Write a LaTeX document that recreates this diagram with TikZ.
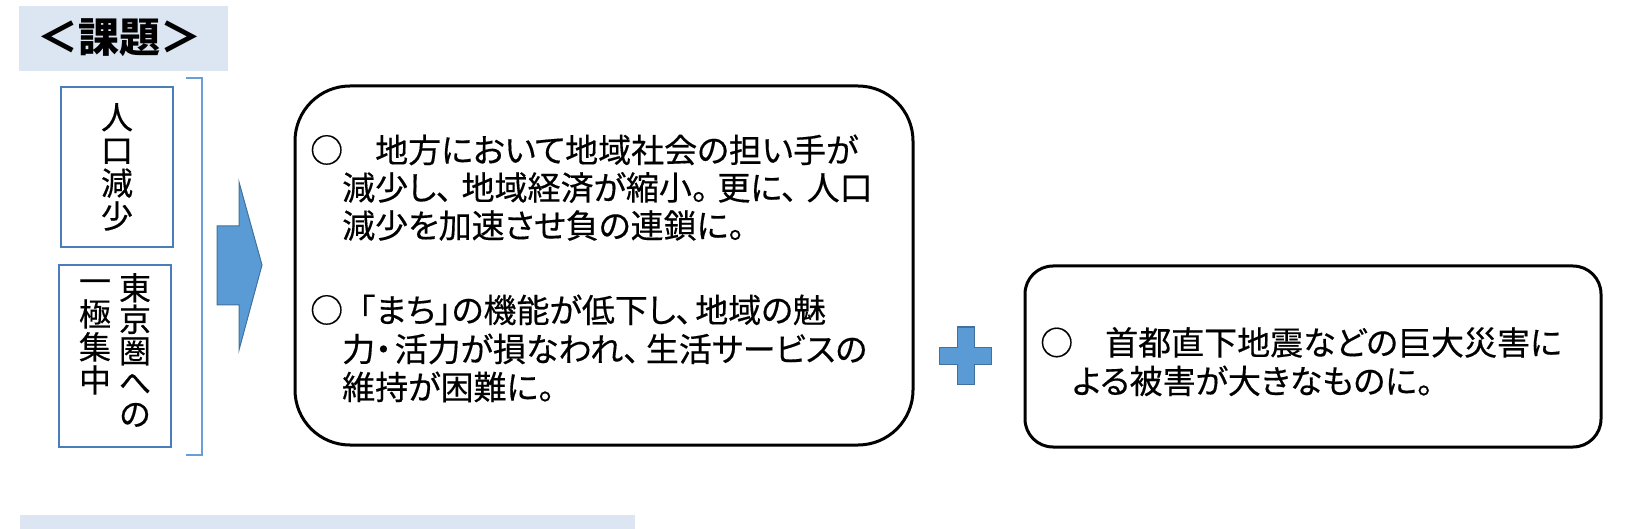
\documentclass[tikz,border=0pt]{standalone}
\usepackage{fontspec}
\newfontfamily\jp[FakeBold=0.4]{Noto Sans CJK JP}
\newfontfamily\jpp[FakeBold=0.4,RawFeature=+palt]{Noto Sans CJK JP}
\newfontfamily\jpt{Noto Sans CJK JP}
\newcommand{\maru}{\makebox[66pt][l]{\jp\hspace{1pt}○}}
\newcommand{\marukg}{\makebox[33.5pt][l]{\jp\hspace{1pt}○}{\jp 「}}
\newcommand{\pgap}[1]{\hspace{#1pt}}
\definecolor{bandblue}{HTML}{DCE6F2}
\definecolor{boxblue}{HTML}{4A7EBB}
\definecolor{brblue}{HTML}{6A9FD6}
\definecolor{arrfill}{HTML}{5B9BD5}
\definecolor{arrline}{HTML}{41719C}
\tikzset{
  band/.style={fill=bandblue, draw=none, inner sep=0pt},
  jpline/.style={font=\jpp\fontsize{33}{36}\selectfont, inner sep=0pt, anchor=base west},
  vcol/.style={font=\jp\fontsize{32}{33}\selectfont, align=center, inner sep=0pt},
  bluebox/.style={draw=boxblue, line width=2pt, inner sep=0pt, minimum width=112pt},
  bigbox/.style={draw=black, line width=3pt, inner sep=0pt},
  bluefill/.style={fill=arrfill, draw=arrline, line width=1pt, line join=miter},
}
\begin{document}
\begin{tikzpicture}[x=1pt,y=-1pt]
\useasboundingbox (0,0) rectangle (1625,529);
% title band
\node[band, minimum width=209pt, minimum height=65pt] (titleband) at (123.5,38.5) {};
\node[font=\jpt\bfseries\fontsize{41}{44}\selectfont, inner sep=0pt] (title) at (119,38) {＜課題＞};
% bottom band (cut off)
\fill[bandblue] (20,515) rectangle (635,529);
% left blue boxes
\node[bluebox, minimum height=160pt] (b1) at (117,167) {};
\node[vcol] (b1t) at (117,167) {人\\口\\減\\少};
\node[bluebox, minimum height=182pt] (b2) at (115,356) {};
\node[vcol, font=\jp\fontsize{32}{31.5}\selectfont] (b2r) at (135,350) {東\\京\\圏\\へ\\の};
\node[vcol] (b2l) at (95,337) {一\\極\\集\\中};
% bracket
\coordinate (brt) at (186,78);
\coordinate (brb) at (186,455);
\draw[brblue, line width=2pt] (brt) -- (202,78) -- (202,455) -- (brb);
% block arrow
\draw[bluefill] (217,226) -- (239,226) -- (239,182) -- (262,265) -- (239,350) -- (239,305) -- (217,305) -- cycle;
% big box 1
\node[bigbox, rounded corners=55pt, minimum width=618pt, minimum height=359pt] (box1) at (604,265.5) {};
\node[jpline] (p1a) at (309,162.5) {\maru 地方において地域社会の担い手が};
\node[jpline] (p1b) at (342,200) {減少し、\pgap{9}地域経済が縮小。\pgap{9}更に、\pgap{9}人口};
\node[jpline] (p1c) at (342,238) {減少を加速させ負の連鎖に。};
\node[jpline] (p2a) at (309,322.5) {\marukg まち」の機能が低下し、\pgap{3}地域の魅};
\node[jpline] (p2b) at (342,361.5) {力・\pgap{3}活力が損なわれ、\pgap{6}生活サービスの};
\node[jpline] (p2c) at (342,399.5) {維持が困難に。};
% plus
\draw[bluefill] (957,327) -- (974,327) -- (974,347) -- (991,347) -- (991,364) -- (974,364) -- (974,384) -- (957,384) -- (957,364) -- (939,364) -- (939,347) -- (957,347) -- cycle;
% big box 2
\node[bigbox, rounded corners=28pt, minimum width=576pt, minimum height=181pt] (box2) at (1313,356.5) {};
\node[jpline] (q1) at (1039,355) {\maru 首都直下地震などの巨大災害に};
\node[jpline] (q2) at (1072,393.5) {よる被害が大きなものに。};
\end{tikzpicture}
\end{document}
